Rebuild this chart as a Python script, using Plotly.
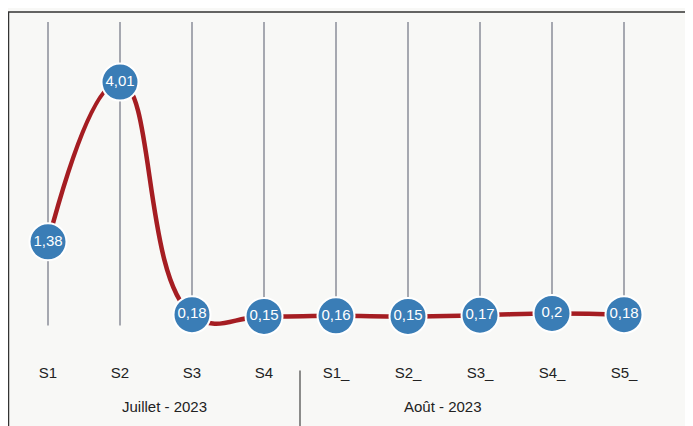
import plotly.graph_objects as go

weeks = ["S1", "S2", "S3", "S4", "S1_", "S2_", "S3_", "S4_", "S5_"]
months = ["Juillet - 2023", "Août - 2023"]
month_counts = [4, 5]
values = [1.38, 4.01, 0.18, 0.15, 0.16, 0.15, 0.17, 0.2, 0.18]

idx = list(range(len(weeks)))
labels = [("%g" % v).replace(".", ",") for v in values]

fig = go.Figure()
fig.add_trace(go.Scatter(
    x=idx, y=values, mode="lines+markers+text",
    line=dict(color="#a51d22", width=4.5, shape="spline", smoothing=1.3),
    marker=dict(size=37, color="#3a7db6", line=dict(color="white", width=2)),
    text=labels, textposition="middle center",
    textfont=dict(color="white", size=15, family="Liberation Sans, Arial"),
    cliponaxis=False, hoverinfo="skip",
))

shapes = []
for i in idx:
    shapes.append(dict(type="line", xref="x", yref="y", x0=i, x1=i, y0=0, y1=5,
                       line=dict(color="#a6a8b0", width=2), layer="below"))
annotations = []
label_x = [1.62, 5.49]
start = 0
for m, c, lx in zip(months, month_counts, label_x):
    annotations.append(dict(x=lx, y=-0.161, xref="x", yref="paper",
                            text=m, showarrow=False,
                            font=dict(size=15, color="#222", family="Liberation Sans, Arial")))
    start += c
    if start < len(weeks):
        shapes.append(dict(type="line", xref="x", yref="paper", x0=start - 0.5, x1=start - 0.5,
                           y0=-0.025, y1=-0.3, line=dict(color="#444", width=1.2)))
shapes.append(dict(type="rect", xref="paper", yref="paper", x0=-0.0054, x1=1.0401,
                   y0=-0.3, y1=1.0294, line=dict(color="#333", width=1.5), layer="below"))

fig.update_layout(
    width=693, height=426,
    margin=dict(l=4, r=41, t=14, b=72),
    paper_bgcolor="#f8f8f6", plot_bgcolor="#f8f8f6",
    showlegend=False,
    shapes=shapes, annotations=annotations,
    xaxis=dict(range=[-0.5, 8.5], tickvals=idx, ticktext=weeks, showgrid=False,
               zeroline=False, showline=False, ticks="",
               tickfont=dict(size=15, color="#222", family="Liberation Sans, Arial")),
    yaxis=dict(range=[-0.6, 5], visible=False),
)
fig.write_html("out.html")
